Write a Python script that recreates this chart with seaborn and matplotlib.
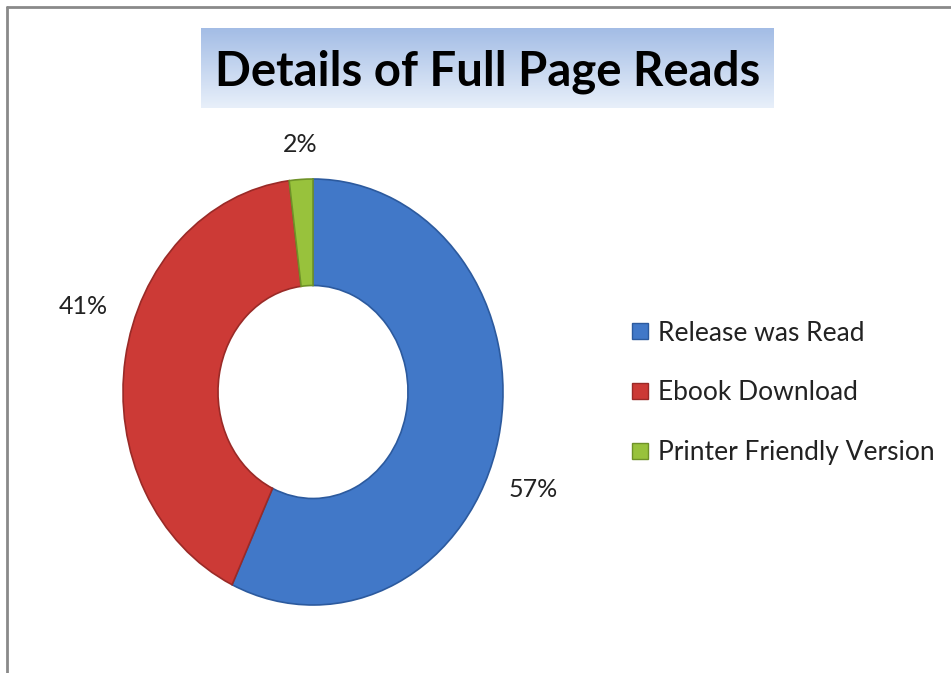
import numpy as np
import matplotlib.pyplot as plt
import seaborn as sns
from matplotlib.lines import Line2D

sns.set_theme(style="white")
plt.rcParams['font.family'] = ['Lato', 'DejaVu Sans']

# data
categories = ['Release was Read', 'Ebook Download', 'Printer Friendly Version']
shares = [57, 41, 2]
colors = ['#4178c8', '#cc3a36', '#98c23c']
edge_colors = ['#2c5a9e', '#9a2a27', '#6f9228']

fig = plt.figure(figsize=(9.51, 6.73), dpi=100)

# grey frame (top + left only, like the cropped screenshot)
fig.add_artist(Line2D([7 / 951, 1], [1 - 7 / 673, 1 - 7 / 673], color='#8a8a8a', lw=2, transform=fig.transFigure))
fig.add_artist(Line2D([7 / 951, 7 / 951], [0, 1 - 7 / 673], color='#8a8a8a', lw=2, transform=fig.transFigure))

# title box with vertical gradient
tax = fig.add_axes([201 / 951, 1 - 108 / 673, 573 / 951, 80 / 673])
grad = np.linspace(0, 1, 100).reshape(-1, 1)
top = np.array([0.64, 0.74, 0.90])
bot = np.array([0.91, 0.94, 0.98])
img = top + (bot - top) * grad[:, :, None]
tax.imshow(img, aspect='auto', extent=[0, 1, 0, 1])
tax.set_axis_off()
tax.text(0.5, 0.45, 'Details of Full Page Reads', ha='center', va='center',
         fontsize=34, fontweight='bold', color='black')

# donut (slightly taller than wide, as in the original)
cx, cy, rx, ry = 313, 392, 190, 213
half_w, half_h = 260, 250
ax = fig.add_axes([(cx - half_w) / 951, (673 - cy - half_h) / 673, 2 * half_w / 951, 2 * half_h / 673])
wedges, _ = ax.pie(shares, colors=colors, startangle=90, counterclock=False,
                   radius=1.0, wedgeprops=dict(width=0.5, linewidth=1.2))
for w, ec in zip(wedges, edge_colors):
    w.set_edgecolor(ec)
ax.set_aspect('auto')
ax.set_xlim(-half_w / rx, half_w / rx)
ax.set_ylim(-half_h / ry, half_h / ry)
ax.set_axis_off()

# percent labels (Excel-style placement)
label_pos = [(1.16, -0.46), (-1.21, 0.40), (-0.07, 1.16)]
for v, (lx, ly) in zip(shares, label_pos):
    ax.text(lx, ly, f'{v}%', ha='center', va='center', fontsize=18, color='#222222')

# legend
handles = [Line2D([], [], marker='s', linestyle='', markersize=11,
                  markerfacecolor=c, markeredgecolor=ec)
           for c, ec in zip(colors, edge_colors)]
fig.legend(handles, categories, loc='center left',
           bbox_to_anchor=(620 / 951, 1 - 393 / 673), frameon=False,
           fontsize=19, handlelength=0.7, handletextpad=0.35, labelspacing=1.32,
           borderaxespad=0, labelcolor='#222222')

fig.savefig('out.png', dpi=100)
